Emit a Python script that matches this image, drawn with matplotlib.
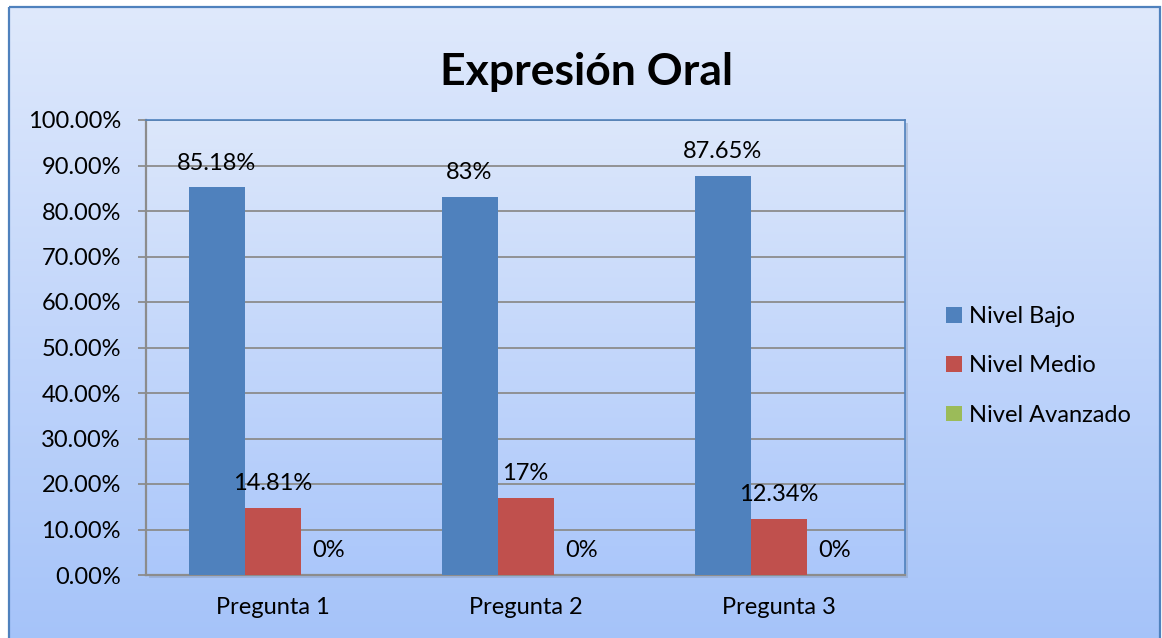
import numpy as np
import matplotlib.pyplot as plt
from matplotlib.patches import Rectangle
from matplotlib.colors import LinearSegmentedColormap
from matplotlib.ticker import FuncFormatter

plt.rcParams["font.family"] = ["Lato", "DejaVu Sans"]

categories = ["Pregunta 1", "Pregunta 2", "Pregunta 3"]
series_names = ["Nivel Bajo", "Nivel Medio", "Nivel Avanzado"]
bajo = [85.18, 83.0, 87.65]
medio = [14.81, 17.0, 12.34]
avanzado = [0.0, 0.0, 0.0]
bajo_labels = ["85.18%", "83%", "87.65%"]
medio_labels = ["14.81%", "17%", "12.34%"]
avanzado_labels = ["0%", "0%", "0%"]

COLORS = ["#4F81BD", "#C0504D", "#9BBB59"]
BORDER = "#4F81BD"
GRID = "#8C8C8C"

W, H = 1162, 638
fig = plt.figure(figsize=(W / 100, H / 100), dpi=100)
fig.patch.set_facecolor("white")

# chart area background with vertical gradient
bg = fig.add_axes([0, 0, 1, 1], zorder=0)
bg.set_xlim(0, W)
bg.set_ylim(H, 0)
bg.axis("off")
cmap = LinearSegmentedColormap.from_list("bgrad", ["#DFE9FC", "#A5C3F9"])
grad = np.linspace(0, 1, 256).reshape(-1, 1)
bg.imshow(grad, cmap=cmap, extent=[9, 1160, 645, 7], aspect="auto", zorder=0)
bg.add_patch(Rectangle((9, 7), 1151, 640, fill=False, edgecolor=BORDER, linewidth=1.6, zorder=2))

# plot area: pixels 146..905 x, 120..575 y
l, r, t, b = 146, 905, 120, 575
ax = fig.add_axes([l / W, 1 - b / H, (r - l) / W, (b - t) / H], zorder=1)
ax.patch.set_visible(False)
ax.imshow(np.linspace(0, 1, 256).reshape(-1, 1),
          cmap=LinearSegmentedColormap.from_list("pgrad", ["#DCE7FB", "#ABC7FA"]),
          extent=[0, 1, 0, 1], transform=ax.transAxes, aspect="auto", zorder=0)

# shadow of plot area
bg.add_patch(Rectangle((l + 3, t + 3), r - l, b - t, facecolor="#7F8FA8", alpha=0.35,
                       edgecolor="none", zorder=0.5))
bg.add_patch(Rectangle((l, t), r - l, b - t, facecolor="#D5E2FB", edgecolor="none", zorder=0.6))

x = np.arange(len(categories))
bw = 56 / 253
series = [bajo, medio, avanzado]
labels = [bajo_labels, medio_labels, avanzado_labels]
for i, (vals, labs) in enumerate(zip(series, labels)):
    xs = x + (i - 1) * bw
    ax.bar(xs, vals, width=bw, color=COLORS[i], label=series_names[i], zorder=3)
    for xi, v, lab in zip(xs, vals, labs):
        ax.annotate(lab, (xi, v), xytext=(0, 10), textcoords="offset points",
                    ha="center", va="bottom", fontsize=17, color="black", zorder=4)

ax.set_xlim(-0.5, len(categories) - 0.5)
ax.set_ylim(0, 100)
ax.set_yticks(np.arange(0, 101, 10))
ax.yaxis.set_major_formatter(FuncFormatter(lambda v, p: f"{v:.2f}%"))
ax.set_xticks(x)
ax.set_xticklabels(categories)
ax.grid(axis="y", color=GRID, linewidth=1.3, zorder=1)
ax.tick_params(axis="y", length=6, width=1.3, color=GRID, labelsize=17, pad=12)
ax.tick_params(axis="x", length=0, labelsize=17, pad=16)
for side in ["left", "bottom"]:
    ax.spines[side].set_color(GRID)
    ax.spines[side].set_linewidth(1.6)
for side in ["top", "right"]:
    ax.spines[side].set_color(BORDER)
    ax.spines[side].set_linewidth(1.2)

fig.text(587 / W, 1 - 72 / H, "Expresión Oral", ha="center", va="center",
         fontsize=32, fontweight="bold", color="black")

handles, hl = ax.get_legend_handles_labels()
fig.legend(handles, hl, loc="center left", bbox_to_anchor=(925 / W, 1 - 366 / H),
           frameon=False, fontsize=17, handlelength=0.65, handleheight=0.65,
           handletextpad=0.3, labelspacing=1.2)

fig.savefig("out.png", dpi=100)
